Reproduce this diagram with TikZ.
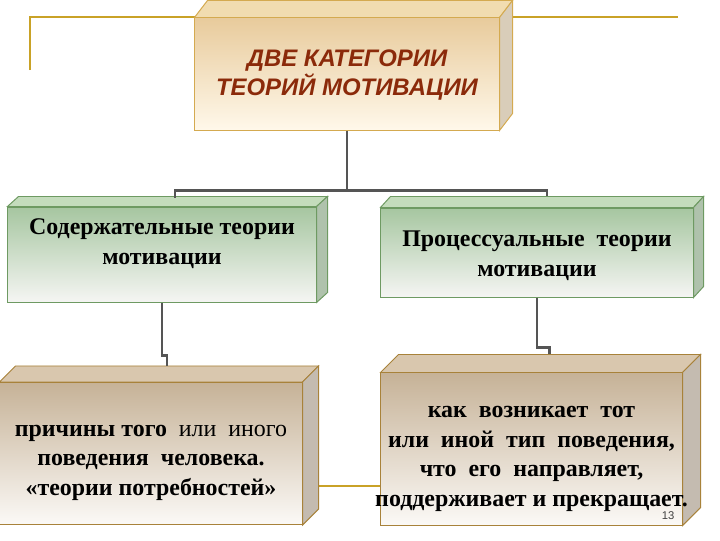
\documentclass[tikz,border=0pt]{standalone}
\usepackage{fontspec}
\setmainfont{Liberation Serif}
\setsansfont{Liberation Sans}
\usepackage{tikz}
\usetikzlibrary{positioning, calc}

\definecolor{goldline}{HTML}{C9A227}
\definecolor{titlered}{HTML}{8B2A0A}
\definecolor{connline}{HTML}{555555}
% top box
\definecolor{sandtop}{HTML}{E8CB9C}
\definecolor{sandbot}{HTML}{FFF8EA}
\definecolor{sandlid}{HTML}{F1DCB0}
\definecolor{sandside}{HTML}{D9CDB9}
\definecolor{sandedge}{HTML}{D4AA50}
% middle boxes
\definecolor{greentop}{HTML}{A6C6A0}
\definecolor{greenbot}{HTML}{F5F5F3}
\definecolor{greenlid}{HTML}{C4DCBC}
\definecolor{greenside}{HTML}{AFC2AC}
\definecolor{greenedge}{HTML}{6E9A62}
% bottom boxes
\definecolor{tantop}{HTML}{C6B297}
\definecolor{tanbot}{HTML}{FBF9F6}
\definecolor{tanlid}{HTML}{D9C7AE}
\definecolor{tanside}{HTML}{C4BBB0}
\definecolor{tanedge}{HTML}{A8823A}

\tikzset{
  slab/.style={draw, line width=0.7pt, shading=axis, inner sep=0pt},
  sandslab/.style={slab, draw=sandedge, top color=sandtop, bottom color=sandbot},
  greenslab/.style={slab, draw=greenedge, top color=greentop, bottom color=greenbot},
  tanslab/.style={slab, draw=tanedge, top color=tantop, bottom color=tanbot},
  conn/.style={connline, line width=1.6pt},
  boxtext/.style={align=center, font=\fontsize{17}{21}\selectfont\bfseries},
}

% lid and side of a slab: node, dx, dy, lid colour, side colour, edge colour
\newcommand{\slabsides}[6]{
  \filldraw[fill=#4, draw=#6, line width=0.7pt] (#1.north west) -- ++(#2,#3)
    -- ($(#1.north east)+(#2,#3)$) -- (#1.north east) -- cycle;
  \filldraw[fill=#5, draw=#6, line width=0.7pt] (#1.north east) -- ++(#2,#3)
    -- ($(#1.south east)+(#2,#3)$) -- (#1.south east) -- cycle;
}

\begin{document}
\begin{tikzpicture}[x=0.025cm, y=-0.025cm]
  \useasboundingbox (0,0) rectangle (720,540);

  % template lines
  \draw[goldline, line width=1.4pt] (30,70) -- (30,17) -- (678,17);
  \draw[goldline, line width=1.4pt] (300,486) -- (390,486);

  % top box
  \node[sandslab, minimum width=7.6cm, minimum height=2.8cm] (head) at (347,74) {};
  \slabsides{head}{13}{-17}{sandlid}{sandside}{sandedge}
  \node[font=\fontsize{17}{21}\selectfont\sffamily\bfseries\itshape, text=titlered, align=center]
    at ($(head)+(0,1)$) {ДВЕ КАТЕГОРИИ\\ ТЕОРИЙ МОТИВАЦИИ};

  % middle boxes
  \node[greenslab, minimum width=7.7cm, minimum height=2.375cm] (content) at (162,254.5) {};
  \slabsides{content}{11}{-10}{greenlid}{greenside}{greenedge}
  \node[boxtext] at ($(content)+(0,-11)$) {Содержательные теории\\ мотивации};

  \node[greenslab, minimum width=7.8cm, minimum height=2.225cm] (process) at (537,252.5) {};
  \slabsides{process}{10}{-11}{greenlid}{greenside}{greenedge}
  \node[boxtext] at ($(process)+(0,3)$) {Процессуальные \ теории\\ мотивации};

  % bottom boxes
  \node[tanslab, minimum width=7.55cm, minimum height=3.55cm] (needs) at (151,453.5) {};
  \slabsides{needs}{16}{-16}{tanlid}{tanside}{tanedge}
  \node[boxtext] at ($(needs)+(0,9)$)
    {причины того \ {\mdseries или \ иного}\\ поведения \ человека.\\ «теории потребностей»};

  \node[tanslab, minimum width=7.525cm, minimum height=3.8cm] (behav) at (531.5,449) {};
  \slabsides{behav}{18}{-18}{tanlid}{tanside}{tanedge}
  \node[boxtext] at ($(behav)+(0,10)$)
    {как \ возникает \ тот\\ или \ иной \ тип \ поведения,\\ что \ его \ направляет,\\ поддерживает и прекращает.};
  \node[font=\sffamily\fontsize{8}{9}\selectfont, text=black!75] (pageno) at (668,516) {13};

  % connectors
  \draw[conn] (head.south) -- ++(0,60) -| ($(content.north)+(13,-9)$);
  \draw[conn] (head.south) ++(0,60) -| ($(process.north)+(10,-12)$);
  \draw[conn] (content.south) -- ++(0,53) -| ($(needs.north)+(16,-16)$);
  \draw[conn] (process.south) -- ++(0,50) -| ($(behav.north)+(18,-18)$);
\end{tikzpicture}
\end{document}
